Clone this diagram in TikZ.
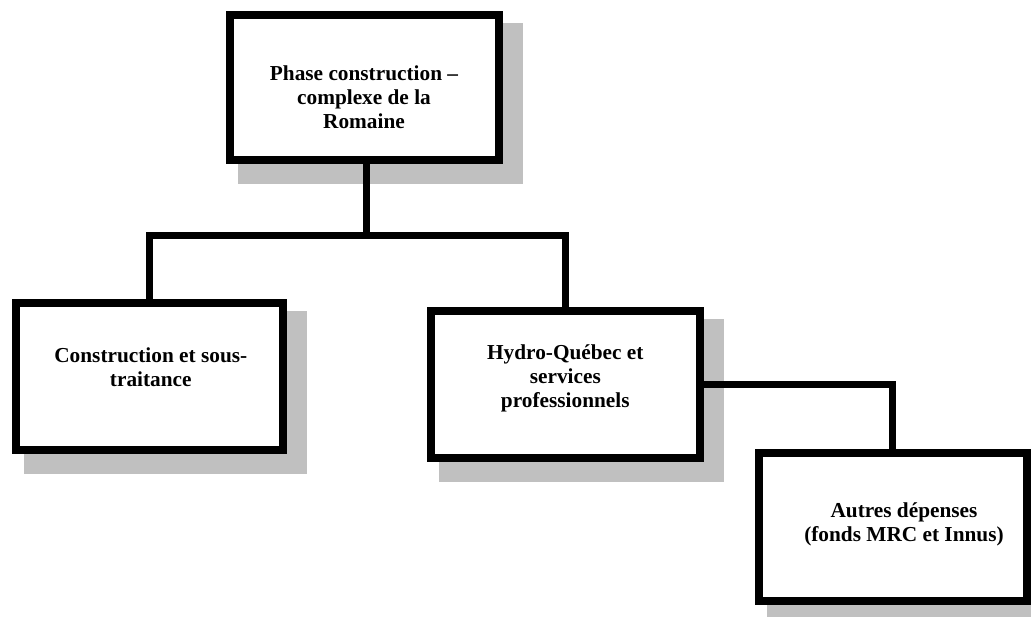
\documentclass[tikz,border=0pt]{standalone}
\usepackage{fontspec}
\setmainfont{Liberation Serif}
\usetikzlibrary{backgrounds}
\definecolor{shadowgray}{HTML}{C0C0C0}
\tikzset{
  box/.style={draw=black, line width=8pt, fill=white, inner sep=0pt},
  boxtext/.style={align=center, inner sep=0pt, font=\bfseries\fontsize{21.3}{24}\selectfont},
  conn/.style={draw=black, line width=7pt},
  shadowfill/.style={fill=shadowgray}
}
\begin{document}
\begin{tikzpicture}[x=1pt,y=-1pt]
\useasboundingbox (0,0) rectangle (1031,616);
% boxes
\node[box, minimum width=268.7pt, minimum height=145pt] (top) at (364.35,87.5) {};
\node[box, minimum width=267pt, minimum height=147pt] (left) at (149.2,376.8) {};
\node[box, minimum width=268.7pt, minimum height=147.2pt] (mid) at (565.65,384.1) {};
\node[box, minimum width=268pt, minimum height=147.7pt] (right) at (893,527.2) {};
% shadows
\begin{scope}[on background layer]
  \foreach \b in {top,left,mid,right}{
    \fill[shadowfill] ([shift={(12,12)}]\b.north west) rectangle ([shift={(20,20)}]\b.south east);
  }
\end{scope}
% texts
\node[boxtext] (ttop) at (364,97) {Phase construction --\\complexe de la\\Romaine};
\node[boxtext] (tleft) at (150.8,367) {Construction et sous-\\traitance};
\node[boxtext] (tmid) at (565.3,378.8) {Hydro-Québec et\\services\\professionnels};
\node[boxtext] (tright) at (904,524) {Autres dépenses\\(fonds MRC et Innus)};
% connectors
\coordinate (j1) at (366,235);
\coordinate (jl) at (149,235);
\coordinate (jr) at (565.5,235);
\coordinate (jk) at (892,384);
\draw[conn] (j1 |- top.south) -- (j1);
\draw[conn] (jl |- left.north) -- (jl) -- (jr) -- (jr |- mid.north);
\draw[conn] (mid.east |- jk) -- (jk) -- (jk |- right.north);
\end{tikzpicture}
\end{document}
